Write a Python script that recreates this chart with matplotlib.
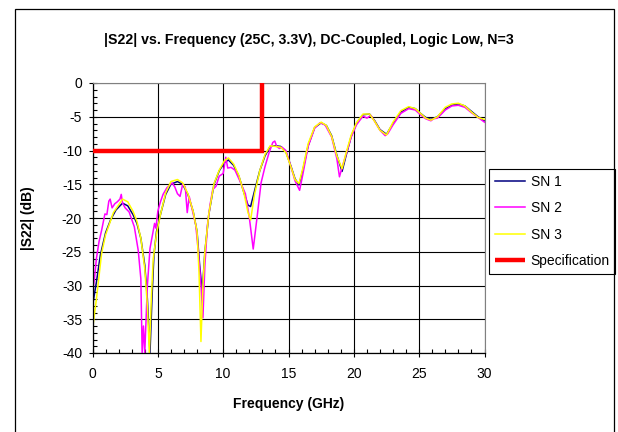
import matplotlib
matplotlib.use("Agg")
import matplotlib.pyplot as plt
from matplotlib.patches import Rectangle
from matplotlib.ticker import MultipleLocator

plt.rcParams['font.family'] = ['Liberation Sans', 'DejaVu Sans']
plt.rcParams['axes.unicode_minus'] = False

# |S22| data, frequency in GHz, value in dB
sn1_f = [0, 0.3, 0.6, 1.0, 1.4, 1.8, 2.3, 2.7, 3.1, 3.4, 3.7, 4.0, 4.2, 4.4, 4.55,
         4.7, 4.9, 5.2, 5.6, 6.0, 6.5, 6.9, 7.3, 7.7, 8.0, 8.2, 8.4, 8.6, 8.9, 9.3,
         9.7, 10.1, 10.4, 10.8, 11.2, 11.6, 11.9, 12.1, 12.4, 12.8, 13.2, 13.6, 14.0,
         14.4, 14.8, 15.2, 15.5, 15.8, 16.1, 16.5, 17.0, 17.5, 17.9, 18.3, 18.7, 19.1,
         19.4, 19.8, 20.2, 20.7, 21.2, 21.6, 22.0, 22.5, 23.0, 23.6, 24.2, 24.7, 25.1,
         25.5, 25.9, 26.4, 27.0, 27.5, 28.0, 28.5, 29.0, 29.5, 30.0]
sn1_db = [-33, -29.5, -25.5, -22.2, -20.2, -18.8, -17.8, -18.2, -19.5, -20.8, -23, -27,
          -32, -40, -32, -25.5, -22, -19.5, -16.5, -15, -14.6, -15, -16.5, -19, -22, -27,
          -31, -25, -19.5, -15, -13, -11.8, -11.4, -12.2, -13.8, -16.3, -18.1, -18.3, -16,
          -13, -10.8, -9.4, -9.3, -9.4, -10.2, -12.4, -14.2, -15.1, -12.9, -9.3, -6.6,
          -5.9, -6.3, -7.8, -10.7, -13.1, -10.8, -7.9, -6.0, -4.7, -4.6, -5.6, -6.9, -7.6,
          -6.0, -4.3, -3.6, -3.8, -4.5, -5.1, -5.4, -5.0, -3.8, -3.3, -3.1, -3.4, -4.2,
          -5.0, -5.6]

sn2_f = [0, 0.15, 0.3, 0.5, 0.7, 0.95, 1.1, 1.25, 1.35, 1.5, 1.7, 1.9, 2.1, 2.2, 2.3,
         2.5, 2.8, 3.2, 3.5, 3.7, 3.8, 3.9, 4.0, 4.2, 4.4, 4.6, 4.75, 4.85, 5.0, 5.2,
         5.4, 5.7, 6.1, 6.3, 6.5, 6.7, 6.9, 7.1, 7.25, 7.4, 7.6, 7.9, 8.1, 8.3, 8.45,
         8.6, 8.8, 9.0, 9.2, 9.45, 9.7, 10.0, 10.2, 10.35, 10.6, 10.9, 11.3, 11.7, 12.0,
         12.3, 12.6, 12.9, 13.2, 13.5, 13.8, 13.95, 14.1, 14.3, 14.5, 14.8, 15.2, 15.5,
         15.85, 16.1, 16.5, 17.0, 17.4, 17.8, 18.3, 18.7, 18.9, 19.1, 19.4, 19.8, 20.2,
         20.7, 21.0, 21.3, 21.6, 22.0, 22.4, 22.6, 23.0, 23.6, 24.2, 24.7, 25.1, 25.5,
         25.9, 26.1, 26.4, 27.0, 27.5, 28.0, 28.5, 29.0, 29.5, 30.0]
sn2_db = [-31, -29, -26, -23.5, -21.8, -19.4, -19.5, -17.5, -17.2, -18.5, -17.9, -17.6,
          -17.2, -16.5, -17.8, -18.5, -19.1, -21.3, -24.8, -29, -40, -36, -40, -30, -24.5,
          -22.4, -20.8, -21.5, -19, -17.6, -16.5, -15.5, -14.8, -15.4, -16.4, -16.8, -15.0,
          -15.4, -19.2, -16.8, -18.5, -21, -25, -30, -34.8, -27, -21, -18, -15.8, -15.3,
          -13.8, -13.4, -11.0, -12.6, -12.5, -12.9, -14.6, -16.4, -19.9, -24.6, -19.8,
          -14.8, -12.4, -10.4, -8.8, -8.6, -9.4, -9.7, -9.5, -10.0, -12.5, -14.5, -15.9,
          -13.5, -9.4, -6.7, -5.9, -6.2, -8.0, -11.2, -13.9, -12.5, -10.6, -8.0, -6.2,
          -4.9, -5.2, -4.8, -5.7, -7.0, -7.8, -7.5, -6.2, -4.5, -3.8, -4.0, -4.7, -5.3,
          -5.6, -5.3, -5.2, -4.0, -3.4, -3.3, -3.6, -4.4, -5.1, -5.8]

sn3_f = [0, 0.3, 0.7, 1.0, 1.6, 2.3, 2.7, 3.1, 3.4, 3.7, 4.0, 4.2, 4.35, 4.5, 4.65,
         4.9, 5.2, 5.6, 6.0, 6.5, 6.9, 7.3, 7.7, 8.0, 8.15, 8.3, 8.45, 8.6, 8.9, 9.3,
         9.7, 10.1, 10.4, 10.8, 11.2, 11.6, 11.9, 12.1, 12.4, 12.8, 13.2, 13.6, 14.0,
         14.4, 14.8, 15.2, 15.5, 15.8, 16.1, 16.5, 17.0, 17.5, 17.9, 18.3, 18.7, 19.1,
         19.4, 19.8, 20.2, 20.7, 21.2, 21.6, 22.0, 22.5, 23.0, 23.6, 24.2, 24.7, 25.1,
         25.5, 25.9, 26.4, 27.0, 27.5, 28.0, 28.5, 29.0, 29.5, 30.0]
sn3_db = [-36.5, -32, -25.2, -22.5, -19.2, -17.2, -17.6, -19.0, -20.5, -23, -27.5, -33,
          -40, -32, -26, -22.3, -19.5, -16.3, -14.6, -14.3, -14.8, -16.4, -19, -22, -28,
          -38.3, -30, -25, -19.4, -14.9, -12.9, -11.5, -11.1, -12.0, -13.7, -16.4, -19.2,
          -20.3, -16.5, -13.0, -10.6, -9.3, -9.4, -9.5, -10.3, -12.5, -14.3, -14.9, -12.6,
          -9.0, -6.5, -5.8, -6.3, -7.9, -10.8, -12.7, -10.4, -7.7, -5.9, -4.6, -4.6, -5.7,
          -7.0, -7.7, -5.8, -4.1, -3.5, -3.8, -4.5, -5.2, -5.5, -5.0, -3.6, -3.1, -3.0,
          -3.4, -4.3, -5.1, -5.4]

spec_f = [0, 13, 13]
spec_db = [-10, -10, 0]

fig = plt.figure(figsize=(6.18, 4.32), dpi=100)
ax = fig.add_axes([92.5 / 618, 1 - 353 / 432, 392 / 618, 270 / 432])

ax.plot(sn1_f, sn1_db, color='#000080', lw=1.1, label='SN 1')
ax.plot(sn2_f, sn2_db, color='#FF00FF', lw=1.1, label='SN 2')
ax.plot(sn3_f, sn3_db, color='#FFFF00', lw=1.1, label='SN 3')
ax.plot(spec_f, spec_db, color='#FF0000', lw=3.2, label='Specification',
        solid_capstyle='butt', solid_joinstyle='miter', zorder=5)

ax.set_xlim(0, 30)
ax.set_ylim(-40, 0)
ax.xaxis.set_major_locator(MultipleLocator(5))
ax.xaxis.set_minor_locator(MultipleLocator(1))
ax.yaxis.set_major_locator(MultipleLocator(5))
ax.yaxis.set_minor_locator(MultipleLocator(1))
ax.grid(True, which='major', color='black', lw=0.8)
ax.set_axisbelow(True)
ax.tick_params(which='major', direction='inout', length=6, width=0.8, labelsize=10)
ax.tick_params(which='minor', direction='in', length=3, width=0.8)
ax.tick_params(axis='x', which='major', pad=7)
ax.tick_params(axis='y', which='major', pad=4.5)
for s in ['top', 'right']:
    ax.spines[s].set_color('#808080')
for s in ['left', 'bottom']:
    ax.spines[s].set_color('black')
    ax.spines[s].set_linewidth(0.9)

fig.text(0.5, 1 - 40 / 432, '|S22| vs. Frequency (25C, 3.3V), DC-Coupled, Logic Low, N=3',
         ha='center', va='center', fontsize=10.2, fontweight='bold')
fig.text(288.5 / 618, 1 - 404 / 432, 'Frequency (GHz)', ha='center', va='center',
         fontsize=10, fontweight='bold')
fig.text(28 / 618, 1 - 218 / 432, '|S22| (dB)', ha='center', va='center',
         fontsize=10, fontweight='bold', rotation=90)

leg = ax.legend(loc='upper left', bbox_to_anchor=(489 / 618, 1 - 169 / 432),
                bbox_transform=fig.transFigure, borderaxespad=0, fontsize=10,
                fancybox=False, framealpha=1, edgecolor='black', borderpad=0.4,
                handlelength=2.2, handletextpad=0.4, labelspacing=0.9)
leg.get_frame().set_linewidth(0.8)

fig.patches.append(Rectangle((15 / 618, -0.1), 599 / 618, 1.1 - 9 / 432,
                             transform=fig.transFigure, fill=False,
                             edgecolor='black', lw=0.9))

fig.savefig('out.png', dpi=100)
